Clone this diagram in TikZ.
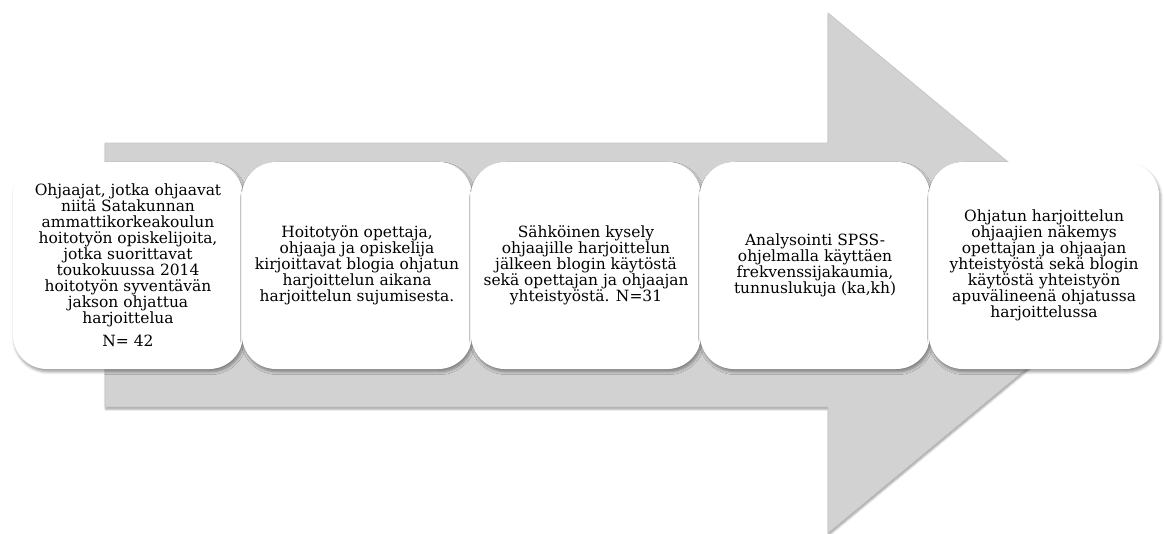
\documentclass[tikz,border=0pt]{standalone}
\usepackage{fontspec}
\setmainfont{DejaVu Serif}
\usetikzlibrary{positioning,shadows.blur}

\begin{document}
\begin{tikzpicture}[x=0.025cm,y=-0.025cm,node distance=-0.04cm,
  phase/.style={fill=white,rounded corners=0.85cm,minimum width=5.75cm,minimum height=5.175cm,
    align=center,font=\fontsize{11}{11.4}\selectfont,
    blur shadow={shadow xshift=1pt,shadow yshift=-2pt,shadow blur steps=6,shadow blur radius=2pt}}]
  \useasboundingbox (0,0) rectangle (1164,533);
  \fill[gray!35,draw=gray!45,line width=0.5pt,blur shadow={shadow xshift=0.5pt,shadow yshift=-1.5pt,shadow blur radius=1.5pt}]
    (105,143) -- (828,143) -- (828,13) -- (1142,273) -- (828,533) -- (828,407) -- (105,407) -- cycle;
  \node[phase] (otos) at (128,265.5) {Ohjaajat, jotka ohjaavat\\niitä Satakunnan\\ammattikorkeakoulun\\hoitotyön opiskelijoita,\\jotka suorittavat\\toukokuussa 2014\\hoitotyön syventävän\\jakson ohjattua\\harjoittelua\\[5pt]N= 42};
  \node[phase,right=of otos] (blogi) {Hoitotyön opettaja,\\ohjaaja ja opiskelija\\kirjoittavat blogia ohjatun\\harjoittelun aikana\\harjoittelun sujumisesta.};
  \node[phase,right=of blogi] (kysely) {Sähköinen kysely\\ohjaajille harjoittelun\\jälkeen blogin käytöstä\\sekä opettajan ja ohjaajan\\yhteistyöstä. N=31};
  \node[phase,right=of kysely] (analyysi) {Analysointi SPSS-\\ohjelmalla käyttäen\\frekvenssijakaumia,\\tunnuslukuja (ka,kh)};
  \node[phase,right=of analyysi] (tulos) {Ohjatun harjoittelun\\ohjaajien näkemys\\opettajan ja ohjaajan\\yhteistyöstä sekä blogin\\käytöstä yhteistyön\\apuvälineenä ohjatussa\\harjoittelussa};
\end{tikzpicture}
\end{document}
